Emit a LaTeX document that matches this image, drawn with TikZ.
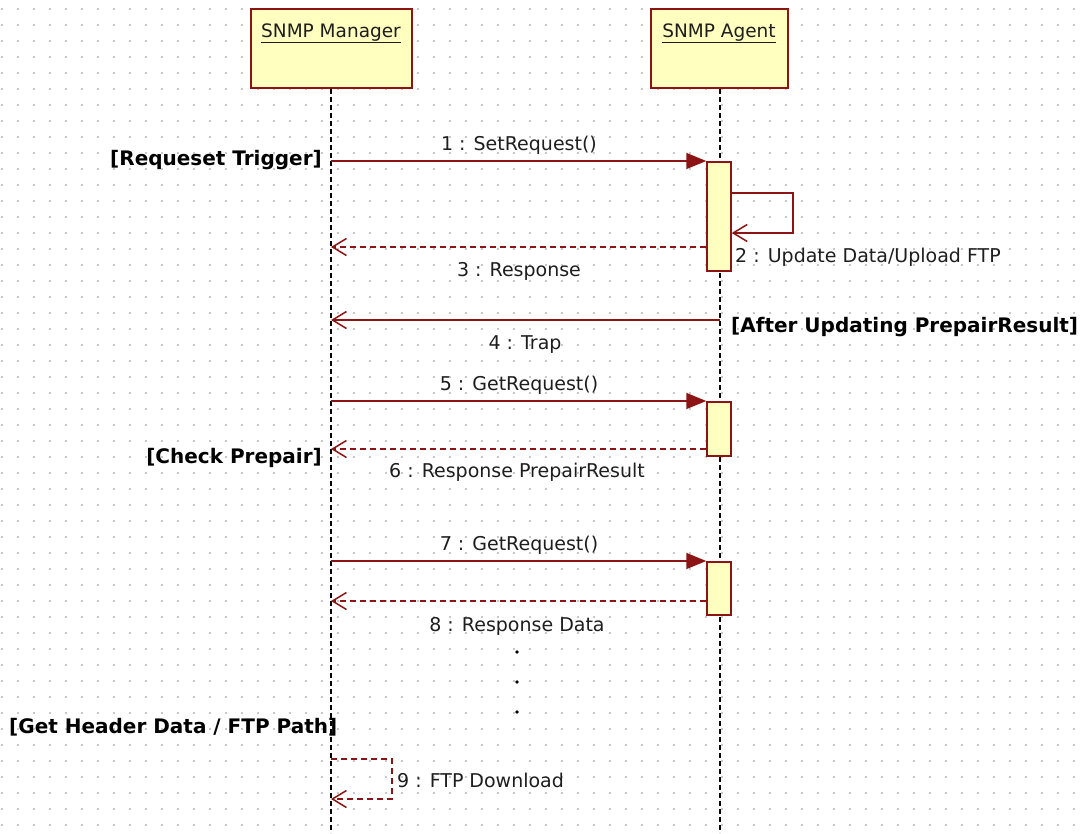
\documentclass[tikz,border=0pt]{standalone}
\usepackage{fontspec}
\setmainfont{DejaVu Sans}
\usetikzlibrary{arrows.meta}

\definecolor{umlred}{RGB}{140,20,20}
\definecolor{umlfill}{RGB}{255,255,192}
\definecolor{griddot}{RGB}{200,200,200}
\definecolor{umltext}{RGB}{30,30,30}

\begin{document}
\begin{tikzpicture}[x=1pt,y=-1pt,
  objbox/.style={draw=umlred, line width=2pt, fill=umlfill, inner sep=0pt,
                 minimum width=#1, minimum height=79pt, anchor=north},
  actbox/.style={draw=umlred, line width=1.5pt, fill=umlfill, inner sep=0pt,
                 minimum width=24pt, minimum height=#1, anchor=north},
  lifeline/.style={draw=black, line width=1.2pt, dash pattern=on 5pt off 3pt},
  call/.style={draw=umlred, line width=1.5pt, -{Triangle[length=20pt,width=16pt]}},
  signal/.style={draw=umlred, line width=1.5pt, -{Straight Barb[length=14pt,width=17pt,line width=1.5pt]}},
  reply/.style={draw=umlred, line width=1.5pt, dash pattern=on 6pt off 4pt,
                -{Straight Barb[length=14pt,width=17pt,line width=1.5pt]}},
  msglabel/.style={inner sep=0pt, text=umltext, font=\fontsize{19}{23}\selectfont},
  guard/.style={inner sep=0pt, text=black, font=\bfseries\fontsize{20}{24}\selectfont},
  title/.style={inner sep=0pt, text=umltext, font=\fontsize{18.5}{22}\selectfont, anchor=base}
]
% page and dotted background grid
\fill[white] (0,0) rectangle (1086,833);
\useasboundingbox (0,0) rectangle (1086,833);
\foreach \i in {0,...,67} {
  \foreach \j in {0,...,51} {
    \fill[griddot] ({1.4+16*\i},{8.4+16*\j}) rectangle ++(1.3,1.3);
  }
}

% objects
\node[objbox=161pt] (mgr) at (331,8) {};
\node[objbox=137pt] (agt) at (719,8) {};
\node[title] (mgrlbl) at (331,37) {\underline{SNMP Manager}};
\node[title] (agtlbl) at (719,37) {\underline{SNMP Agent}};

% lifelines
\coordinate (mgrEnd) at (331,833);
\coordinate (agtEnd) at (720,833);
\draw[lifeline] (mgr.south) -- (mgrEnd);
\draw[lifeline] (agt.south -| agtEnd) -- (agtEnd);

% activation bars
\node[actbox=109pt] (act1) at (719,161) {};
\node[actbox=54pt]  (act2) at (719,401) {};
\node[actbox=53pt]  (act3) at (719,561) {};

% 1 : SetRequest
\coordinate (m1) at (331,161);
\draw[call] (m1) -- (act1.north west);
\node[msglabel, anchor=base] (l1) at (519,150) {1 : SetRequest()};
\node[guard, anchor=base east] (g1) at (322,165) {[Requeset Trigger]};

% 2 : self call on the agent
\coordinate (s2a) at (793,193);
\coordinate (s2b) at (793,233);
\draw[signal] ([yshift=-32pt]act1.north east) -- (s2a) -- (s2b) -- ([yshift=-72pt]act1.north east);
\node[msglabel, anchor=base west] (l2) at (735,262) {2 : Update Data/Upload FTP};

% 3 : Response
\coordinate (r3) at (331,247);
\draw[reply] ([yshift=-86pt]act1.north west) -- (r3);
\node[msglabel, anchor=base] (l3) at (519,276) {3 : Response};

% 4 : Trap
\coordinate (t4a) at (720,320);
\coordinate (t4b) at (331,320);
\draw[signal] (t4a) -- (t4b);
\node[msglabel, anchor=base] (l4) at (525,349) {4 : Trap};
\node[guard, anchor=base west] (g4) at (731,332) {[After Updating PrepairResult]};

% 5 : GetRequest / 6 : Response PrepairResult
\coordinate (m5) at (331,401);
\draw[call] (m5) -- (act2.north west);
\node[msglabel, anchor=base] (l5) at (519,390) {5 : GetRequest()};
\coordinate (r6) at (331,449);
\draw[reply] ([yshift=-48pt]act2.north west) -- (r6);
\node[msglabel, anchor=base] (l6) at (517,477) {6 : Response PrepairResult};
\node[guard, anchor=base east] (g6) at (322,463) {[Check Prepair]};

% 7 : GetRequest / 8 : Response Data
\coordinate (m7) at (331,561);
\draw[call] (m7) -- (act3.north west);
\node[msglabel, anchor=base] (l7) at (519,550) {7 : GetRequest()};
\coordinate (r8) at (331,601);
\draw[reply] ([yshift=-40pt]act3.north west) -- (r8);
\node[msglabel, anchor=base] (l8) at (517,631) {8 : Response Data};

% continuation dots
\foreach \y in {652,682,712} \fill[black] (517,\y) circle (1.8pt);

% 9 : FTP Download (self call on the manager)
\node[guard, anchor=base west] (g9) at (9,733) {[Get Header Data / FTP Path]};
\coordinate (d9a) at (331,759);
\coordinate (d9b) at (392,759);
\coordinate (d9c) at (392,799);
\coordinate (d9d) at (331,799);
\draw[reply] (d9a) -- (d9b) -- (d9c) -- (d9d);
\node[msglabel, anchor=base west] (l9) at (397,787) {9 : FTP Download};
\end{tikzpicture}
\end{document}
